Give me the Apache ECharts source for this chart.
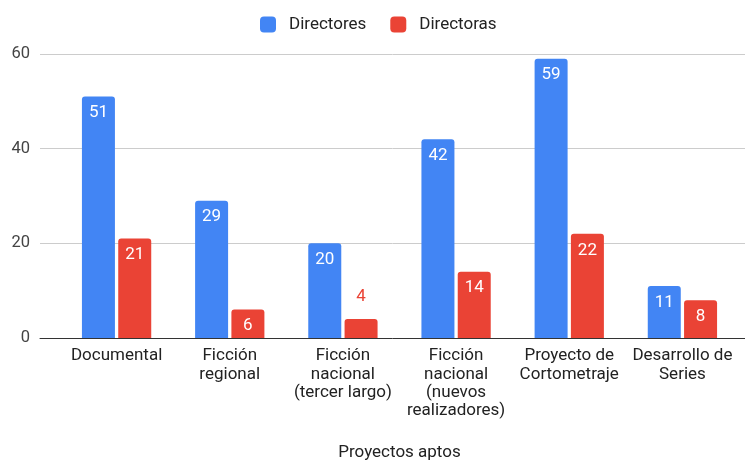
<!DOCTYPE html>
<html>
<head>
<meta charset="utf-8">
<script src="https://cdn.jsdelivr.net/npm/echarts@6/dist/echarts.min.js"></script>
<style>
  html, body { margin: 0; padding: 0; background: #fff; }
  #chart { width: 745px; height: 460px; }
</style>
</head>
<body>
<div id="chart"></div>
<script>
// datos
const categories = [
  "Documental",
  "Ficción\nregional",
  "Ficción\nnacional\n(tercer largo)",
  "Ficción\nnacional\n(nuevos\nrealizadores)",
  "Proyecto de\nCortometraje",
  "Desarrollo de\nSeries"
];
const directores = [51, 29, 20, 42, 59, 11];
const directoras = [21, 6, 4, 14, 22, 8];
const yTicks = [0, 20, 40, 60];

const BLUE = "#4285F4";
const RED = "#EA4335";
const FONT = "Roboto";

const chart = echarts.init(document.getElementById("chart"));

// etiqueta fuera de la barra cuando es muy baja
const withLabels = (values, color) =>
  values.map((v) =>
    v < 5
      ? { value: v, label: { position: "top", color: color, distance: 14 } }
      : v
  );

const option = {
  animation: false,
  textStyle: { fontFamily: FONT },
  legend: {
    top: 11,
    left: 255,
    icon: "roundRect",
    itemWidth: 16,
    itemHeight: 16,
    itemGap: 24,
    textStyle: { fontSize: 17, color: "#222", fontFamily: FONT, padding: [0, 0, 0, 8] },
    data: ["Directores", "Directoras"]
  },
  grid: [
    // grid de fondo: líneas y etiquetas del eje Y
    { left: 40, right: 0, top: 54, bottom: 122, outerBoundsMode: "none" },
    // grid de las barras
    { left: 60, right: 6, top: 54, bottom: 122, outerBoundsMode: "none" }
  ],
  xAxis: [
    {
      gridIndex: 0,
      type: "value",
      min: 0,
      max: 1,
      axisLine: { show: true, onZero: false, lineStyle: { color: "#333", width: 1 } },
      axisTick: { show: false },
      axisLabel: { show: false },
      splitLine: { show: false }
    },
    {
      gridIndex: 1,
      type: "category",
      data: categories,
      axisLine: { show: false },
      axisTick: { show: false },
      axisLabel: {
        interval: 0,
        margin: 9,
        fontSize: 17,
        lineHeight: 18.3,
        color: "#222",
        fontFamily: FONT
      },
      name: "Proyectos aptos",
      nameLocation: "middle",
      nameGap: 106,
      nameTextStyle: { fontSize: 17, color: "#222", fontFamily: FONT }
    }
  ],
  yAxis: [
    {
      gridIndex: 0,
      type: "value",
      min: yTicks[0],
      max: yTicks[yTicks.length - 1],
      interval: 20,
      axisLine: { show: false },
      axisTick: { show: false },
      axisLabel: { fontSize: 16.5, color: "#444", margin: 10, fontFamily: FONT },
      splitLine: { lineStyle: { color: "#ccc", width: 1 } }
    },
    {
      gridIndex: 1,
      type: "value",
      min: yTicks[0],
      max: yTicks[yTicks.length - 1],
      interval: 20,
      show: false,
      splitLine: { show: false }
    }
  ],
  series: [
    {
      name: "Directores",
      type: "bar",
      xAxisIndex: 1,
      yAxisIndex: 1,
      data: withLabels(directores, BLUE),
      barWidth: 33,
      barGap: "10%",
      itemStyle: { color: BLUE, borderRadius: [3, 3, 0, 0] },
      label: {
        show: true,
        position: "insideTop",
        distance: 8,
        color: "#fff",
        fontSize: 17,
        fontFamily: FONT
      }
    },
    {
      name: "Directoras",
      type: "bar",
      xAxisIndex: 1,
      yAxisIndex: 1,
      data: withLabels(directoras, RED),
      barWidth: 33,
      barGap: "10%",
      itemStyle: { color: RED, borderRadius: [3, 3, 0, 0] },
      label: {
        show: true,
        position: "insideTop",
        distance: 8,
        color: "#fff",
        fontSize: 17,
        fontFamily: FONT
      }
    }
  ]
};

chart.setOption(option);
</script>
</body>
</html>
